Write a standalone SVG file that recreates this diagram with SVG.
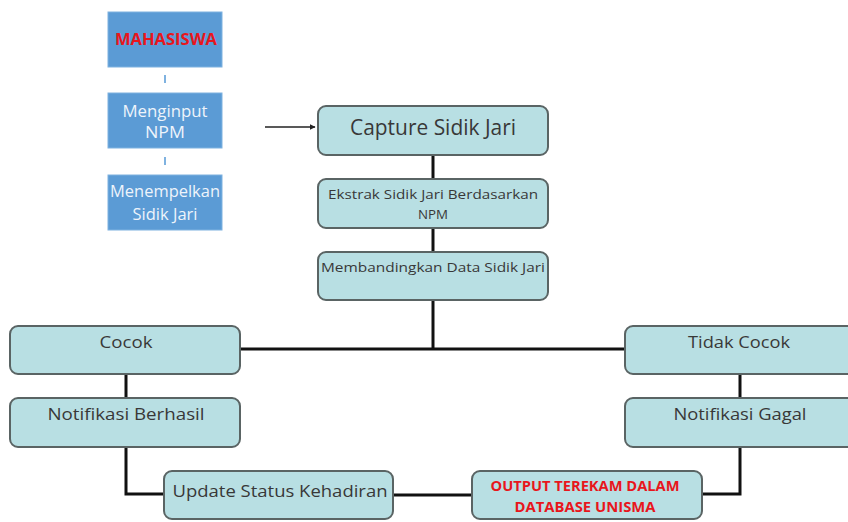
<svg xmlns="http://www.w3.org/2000/svg" width="848" height="522" viewBox="0 0 848 522">
<defs>
<marker id="ah" viewBox="0 0 10 10" refX="9" refY="5" markerWidth="6" markerHeight="6" orient="auto" markerUnits="userSpaceOnUse"><path d="M0,0 L10,5 L0,10 z" fill="#222"/></marker>
<style>
.blue{fill:#5b9bd5;stroke:#7fb2e0;stroke-width:1}
.box{fill:#b8dfe3;stroke:#5a6464;stroke-width:2}
.t{font-family:"Open Sans","Liberation Sans",sans-serif;fill:#383838;text-anchor:middle}
.w{font-family:"Open Sans","Liberation Sans",sans-serif;fill:#eef4fb;text-anchor:middle;font-size:15.5px}
.red{font-family:"Open Sans","Liberation Sans",sans-serif;fill:#e8161c;text-anchor:middle;font-weight:bold}
.ln{fill:none;stroke:#111;stroke-width:3}
</style>
</defs>
<rect width="848" height="522" fill="#fff"/>
<g id="connectors">
<line x1="165" y1="75" x2="165" y2="83" stroke="#7fb2e0" stroke-width="2"/>
<line x1="165" y1="157" x2="165" y2="165" stroke="#7fb2e0" stroke-width="2"/>
<line x1="265" y1="127" x2="315" y2="127" stroke="#222" stroke-width="1.5" marker-end="url(#ah)"/>
<line class="ln" x1="433" y1="155" x2="433" y2="179"/>
<line class="ln" x1="433" y1="228" x2="433" y2="252"/>
<line class="ln" x1="433" y1="300" x2="433" y2="349"/>
<line class="ln" x1="240" y1="349" x2="625" y2="349"/>
<line class="ln" x1="126" y1="374" x2="126" y2="398"/>
<polyline class="ln" points="126,447 126,494 164,494"/>
<line class="ln" x1="393" y1="495" x2="472" y2="495"/>
<line class="ln" x1="740" y1="374" x2="740" y2="398"/>
<polyline class="ln" points="702,494 740,494 740,447"/>
</g>
<g id="mahasiswa"><rect class="blue" x="108" y="12" width="114" height="55"/><text class="red" x="166" y="45" font-size="16" textLength="102" lengthAdjust="spacingAndGlyphs">MAHASISWA</text></g>
<g id="menginput"><rect class="blue" x="108" y="93" width="114" height="55"/><text class="w" x="165" y="117" textLength="85" lengthAdjust="spacingAndGlyphs">Menginput</text><text class="w" x="165" y="138" textLength="40" lengthAdjust="spacingAndGlyphs">NPM</text></g>
<g id="menempelkan"><rect class="blue" x="108" y="175" width="114" height="55"/><text class="w" x="165" y="197" textLength="110" lengthAdjust="spacingAndGlyphs">Menempelkan</text><text class="w" x="165" y="220" textLength="65" lengthAdjust="spacingAndGlyphs">Sidik Jari</text></g>
<g id="capture"><rect class="box" x="318" y="106" width="230" height="49" rx="8"/><text class="t" x="433" y="135" font-size="21" textLength="166" lengthAdjust="spacingAndGlyphs">Capture Sidik Jari</text></g>
<g id="ekstrak"><rect class="box" x="318" y="179" width="230" height="49" rx="8"/><text class="t" x="433" y="199" font-size="13" textLength="210" lengthAdjust="spacingAndGlyphs">Ekstrak Sidik Jari Berdasarkan</text><text class="t" x="433" y="219" font-size="13" textLength="30" lengthAdjust="spacingAndGlyphs">NPM</text></g>
<g id="membandingkan"><rect class="box" x="318" y="252" width="230" height="48" rx="8"/><text class="t" x="433" y="272" font-size="13" textLength="224" lengthAdjust="spacingAndGlyphs">Membandingkan Data Sidik Jari</text></g>
<g id="cocok"><rect class="box" x="10" y="326" width="230" height="48" rx="8"/><text class="t" x="126" y="348" font-size="16" textLength="53" lengthAdjust="spacingAndGlyphs">Cocok</text></g>
<g id="tidakcocok"><rect class="box" x="625" y="326" width="232" height="48" rx="8"/><text class="t" x="739" y="348" font-size="16" textLength="102" lengthAdjust="spacingAndGlyphs">Tidak Cocok</text></g>
<g id="notifberhasil"><rect class="box" x="10" y="398" width="230" height="49" rx="8"/><text class="t" x="126" y="420" font-size="16" textLength="157" lengthAdjust="spacingAndGlyphs">Notifikasi Berhasil</text></g>
<g id="notifgagal"><rect class="box" x="625" y="398" width="232" height="49" rx="8"/><text class="t" x="740" y="420" font-size="16" textLength="133" lengthAdjust="spacingAndGlyphs">Notifikasi Gagal</text></g>
<g id="update"><rect class="box" x="164" y="471" width="229" height="48" rx="8"/><text class="t" x="280" y="497" font-size="16" textLength="215" lengthAdjust="spacingAndGlyphs">Update Status Kehadiran</text></g>
<g id="output"><rect class="box" x="472" y="471" width="230" height="48" rx="8"/><text class="red" x="585" y="491" font-size="14" textLength="189" lengthAdjust="spacingAndGlyphs">OUTPUT TEREKAM DALAM</text><text class="red" x="585" y="512" font-size="14" textLength="141" lengthAdjust="spacingAndGlyphs">DATABASE UNISMA</text></g>
</svg>
